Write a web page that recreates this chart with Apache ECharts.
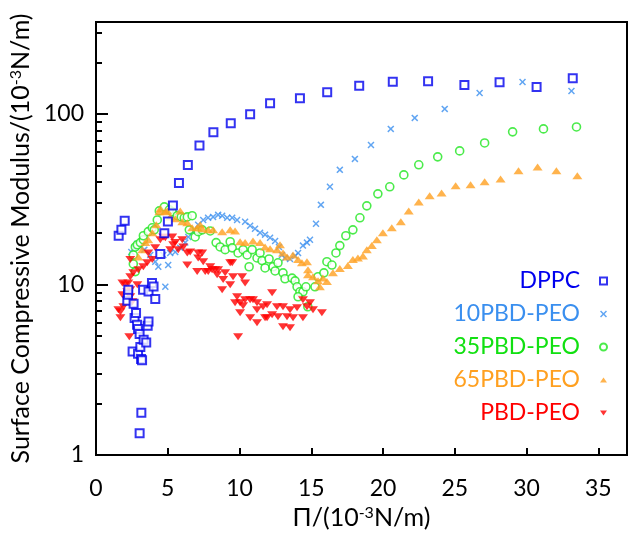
<!DOCTYPE html>
<html><head><meta charset="utf-8">
<script src="https://cdn.jsdelivr.net/npm/echarts@6/dist/echarts.min.js"></script>
<style>html,body{margin:0;padding:0;background:#fff}#c{width:629px;height:541px}</style>
</head><body><div id="c"></div>
<script>
// ---- tick labels / axis ranges ----
const xTickValues = [0, 5, 10, 15, 20, 25, 30, 35];
const yMajorValues = [1, 10, 100];
const yMinorValues = [2,3,4,5,6,7,8,9,20,30,40,50,60,70,80,90,200,300];
const seriesNames = ['DPPC', '10PBD-PEO', '35PBD-PEO', '65PBD-PEO', 'PBD-PEO'];

// ---- data (Π, modulus) ----
const dppcPi = [1.58,1.77,2.00,2.18,2.23,2.25,2.55,2.62,2.69,2.79,2.86,2.93,2.93,3.04,3.04,3.09,3.14,3.16,3.21,3.28,3.32,3.50,3.60,3.66,3.66,3.90,4.01,4.13,4.48,4.76,5.01,5.36,5.78,6.40,7.21,8.18,9.39,10.74,12.13,14.21,16.11,18.34,20.68,23.14,25.67,28.12,30.70,33.22];
const dppcMod = [19.3,20.9,23.6,8.03,8.70,9.31,4.05,7.71,6.36,6.80,5.81,5.48,3.93,5.12,1.34,4.30,3.66,1.77,3.59,9.31,4.74,4.57,5.73,6.07,9.10,10.2,9.73,8.21,15.1,20.0,23.4,29.0,39.3,50.1,65.2,78.1,88.2,99.6,115.5,123.6,134.0,146.5,154.6,155.5,147.9,153.4,143.9,161.9];

const pbd10Pi = [2.46,2.67,2.88,3.09,3.37,3.78,4.13,4.34,4.83,4.69,5.03,5.17,5.52,5.87,6.22,6.43,6.77,7.12,7.47,7.81,8.16,8.51,8.79,9.14,9.49,9.83,10.39,10.74,11.08,11.43,11.78,12.13,12.48,12.75,12.96,13.17,13.52,13.87,14.08,14.42,14.70,14.91,15.33,15.67,16.30,16.99,18.04,19.16,20.54,22.21,24.30,26.73,29.72,33.13];
const pbd10Mod = [15.5,16.4,17.3,16.6,16.0,14.9,13.6,12.7,9.69,14.9,13.0,15.3,15.5,16.4,17.6,19.0,20.4,22.4,23.9,24.6,24.9,25.6,25.3,24.6,24.6,23.9,23.3,22.1,21.2,20.1,19.6,18.8,18.0,16.6,14.9,14.3,14.1,14.7,15.3,16.9,17.6,18.3,22.7,29.3,37.4,47.0,54.5,65.8,81.7,94.8,107.0,132.7,154.0,136.4];

const pbd35Pi = [2.74,2.60,2.60,2.74,2.88,3.09,3.30,3.30,3.64,3.92,4.06,4.27,4.41,4.76,5.11,5.31,5.66,5.94,6.15,6.36,6.70,6.50,6.91,7.12,7.40,7.96,8.37,8.65,9.00,9.35,9.49,9.90,10.25,10.53,10.67,10.88,11.22,11.43,11.57,11.78,12.06,12.34,12.48,12.68,13.03,13.17,13.66,13.87,14.01,14.21,14.42,14.08,14.63,14.76,15.26,15.47,15.88,16.09,16.44,16.72,16.99,17.41,17.90,18.39,18.87,19.64,20.47,21.45,22.49,23.81,25.34,27.08,29.03,31.18,33.48];
const pbd35Mod = [11.9,13.2,14.9,16.6,17.1,17.6,18.3,19.3,20.4,21.5,20.9,23.9,27.0,28.5,27.4,26.7,25.3,24.9,24.6,24.9,25.3,20.9,19.0,20.4,20.9,20.6,17.6,16.6,16.0,17.8,16.4,15.3,16.0,14.9,12.7,16.0,14.3,15.3,13.8,12.5,14.1,12.7,12.0,13.4,11.7,10.8,10.9,10.5,9.69,9.06,9.06,8.47,9.69,7.40,9.69,11.1,11.7,13.6,13.0,15.3,16.9,19.3,20.9,24.6,28.9,34.0,37.4,43.9,50.3,56.0,60.7,67.6,78.5,81.7,83.9];

const pbd65Pi = [2.95,3.23,3.44,3.64,3.92,4.20,4.41,4.48,4.83,4.97,5.17,5.52,5.87,6.01,6.36,6.70,7.05,7.26,7.40,7.82,8.16,8.79,9.35,9.69,10.04,10.39,10.94,11.43,11.78,12.13,12.61,12.82,13.03,13.31,13.73,14.08,14.35,14.70,14.77,14.77,15.12,15.47,15.60,15.81,16.09,16.51,16.99,17.55,17.90,18.25,18.60,18.87,19.22,19.57,19.99,20.61,21.24,21.79,22.49,23.25,24.08,25.06,26.10,27.08,28.19,29.44,30.77,32.08,33.54];
const pbd65Mod = [14.5,16.0,17.6,18.3,20.1,22.4,26.7,27.8,26.7,27.0,24.9,24.3,27.0,23.3,23.0,21.5,21.5,22.4,21.2,20.9,20.9,20.4,20.9,20.6,17.8,17.6,18.0,17.6,16.6,16.2,16.0,17.1,15.3,14.5,14.9,14.0,13.4,13.6,12.2,11.4,11.1,10.5,9.69,10.9,10.4,11.7,12.4,12.9,14.0,14.3,14.7,16.0,16.9,18.3,20.1,21.5,23.3,27.0,30.5,33.1,34.4,37.9,38.4,40.0,41.6,46.4,48.9,46.4,43.4];

const pbdPi = [1.56,1.70,1.70,1.84,1.91,1.84,2.04,2.18,2.25,2.39,2.39,2.53,2.32,2.39,2.60,2.88,2.95,2.39,3.30,3.57,3.64,3.92,4.13,4.48,4.69,4.83,5.17,5.31,5.38,5.52,5.73,6.01,6.08,6.36,6.56,7.12,7.12,7.40,7.47,6.36,7.05,7.61,7.82,7.96,8.09,8.30,8.44,8.51,8.79,8.86,9.00,9.35,9.35,9.49,9.55,9.69,9.83,9.90,10.04,10.04,10.18,10.25,10.39,10.39,10.74,10.74,10.94,11.22,11.22,11.22,11.64,11.78,11.92,11.92,12.27,12.27,12.61,12.68,13.03,13.03,13.31,13.52,13.52,13.73,14.01,14.42,14.42,14.70,14.91,15.12,15.74];
const pbdMod = [7.11,6.38,6.92,8.70,7.40,10.2,9.96,9.06,10.2,9.31,8.47,7.92,4.94,11.1,11.7,9.96,12.2,14.0,12.7,13.4,15.3,14.0,16.4,18.3,19.0,18.8,16.0,19.0,17.1,17.6,16.0,18.3,16.6,15.3,15.5,15.3,14.3,15.3,13.6,13.0,11.9,11.9,11.9,12.7,12.2,12.2,11.4,12.2,9.31,10.7,11.7,13.4,9.96,13.4,11.1,7.81,8.47,4.94,7.81,6.83,11.1,7.50,8.13,10.2,8.13,6.38,8.13,7.11,7.81,5.97,7.40,6.38,7.60,6.38,8.94,6.64,7.40,6.47,7.40,5.65,6.47,7.11,5.58,6.38,7.30,6.38,8.13,7.40,7.81,7.11,6.83];

// ---- styling ----
const FONT = 'Lato';
const FS = 23;
const TFS = 25;
const colors = ['#0000ee', '#3a8fef', '#1ee61e', '#ffa020', '#ff0000'];
const textColors = ['#0000ee', '#3a8fef', '#11e011', '#ffa020', '#ff0000'];
const Y_MAX = 346;
const X_MAX = 37;

function pairs(xs, ys) { return xs.map((x, i) => [x, ys[i]]); }

const crossPath = 'path://M0,1.5L1.5,0L5,3.5L8.5,0L10,1.5L6.5,5L10,8.5L8.5,10L5,6.5L1.5,10L0,8.5L3.5,5Z';
const upTri = 'path://M5,0L10,7L0,7Z';
const downTri = 'path://M0,0L10,0L5,7Z';
const titleStyle = { color: '#000', fontFamily: FONT, fontSize: TFS, rich: { sup: { fontFamily: FONT, fontSize: 16, verticalAlign: 'top', color: '#000' } } };

const chart = echarts.init(document.getElementById('c'));
chart.setOption({
  animation: false,
  backgroundColor: '#fff',
  grid: { left: 96, right: 2, top: 22, bottom: 86, show: true, borderColor: '#000', borderWidth: 2, outerBoundsMode: 'none' },
  legend: {
    orient: 'vertical', right: 16, top: 264, align: 'right',
    itemWidth: 7, itemHeight: 7, itemGap: 9,
    textStyle: { fontFamily: FONT, fontSize: FS, lineHeight: 24, padding: [0, 15, 0, 0] },
    data: seriesNames.map((n, i) => ({ name: n, textStyle: { color: textColors[i] } }))
  },
  xAxis: {
    type: 'value', min: 0, max: X_MAX, interval: 5,
    axisLine: { show: true, lineStyle: { color: '#000', width: 2 } },
    axisTick: { show: true, inside: true, length: 7, lineStyle: { color: '#000', width: 2 } },
    axisLabel: { showMaxLabel: false, color: '#000', fontFamily: FONT, fontSize: FS, margin: 22 },
    splitLine: { show: false },
    name: 'Π/(10{sup|-3}N/m)', nameLocation: 'middle', nameGap: 50,
    nameTextStyle: titleStyle
  },
  yAxis: [{
    type: 'log', logBase: 10, min: 1, max: Y_MAX,
    axisLine: { show: true, lineStyle: { color: '#000', width: 2 } },
    axisTick: { show: true, inside: true, length: 12, lineStyle: { color: '#000', width: 2 } },
    axisLabel: { showMaxLabel: false, color: '#000', fontFamily: FONT, fontSize: FS, margin: 12 },
    splitLine: { show: false },
    name: 'Surface Compressive Modulus/(10{sup|-3}N/m)', nameLocation: 'middle', nameGap: 54,
    nameTextStyle: titleStyle
  }, {
    type: 'value', position: 'left', min: 0, max: Math.log10(Y_MAX),
    axisLine: { show: false }, axisLabel: { show: false }, splitLine: { show: false },
    axisTick: { show: true, inside: true, length: 6, customValues: yMinorValues.map(v => Math.log10(v)), lineStyle: { color: '#000', width: 2 } }
  }],
  series: [
    { name: '10PBD-PEO', type: 'scatter', data: pairs(pbd10Pi, pbd10Mod), symbol: crossPath, symbolSize: 7, itemStyle: { color: colors[1] } },
    { name: '35PBD-PEO', type: 'scatter', data: pairs(pbd35Pi, pbd35Mod), symbol: 'circle', symbolSize: 8, itemStyle: { color: '#fff', borderColor: colors[2], borderWidth: 1.6 } },
    { name: '65PBD-PEO', type: 'scatter', data: pairs(pbd65Pi, pbd65Mod), symbol: upTri, symbolSize: [10, 7], itemStyle: { color: colors[3] } },
    { name: 'PBD-PEO', type: 'scatter', data: pairs(pbdPi, pbdMod), symbol: downTri, symbolSize: [10, 7], itemStyle: { color: colors[4] } },
    { name: 'DPPC', type: 'scatter', data: pairs(dppcPi, dppcMod), symbol: 'rect', symbolSize: 8, itemStyle: { color: '#fff', borderColor: colors[0], borderWidth: 2 } }
  ]
});
</script></body></html>
